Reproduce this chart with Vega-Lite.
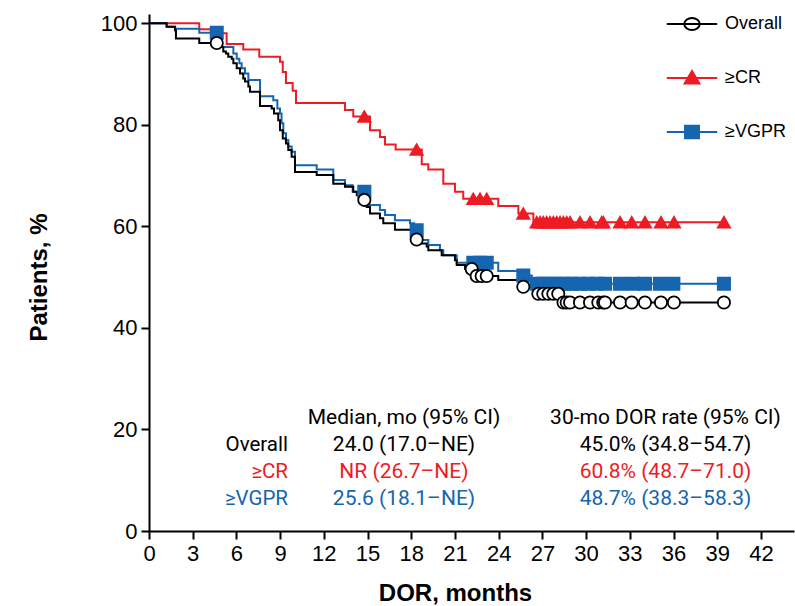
{
  "$schema": "https://vega.github.io/schema/vega-lite/v6.json",
  "width": 645,
  "height": 517,
  "autosize": {"type": "none"},
  "padding": {"left": 149, "top": 14, "right": 1, "bottom": 75},
  "background": "white",
  "config": {
    "view": {"stroke": null},
    "axis": {
      "domainColor": "black", "domainWidth": 2, "tickColor": "black", "tickWidth": 2, "tickSize": 8,
      "labelFont": "Liberation Sans Narrow, Liberation Sans", "labelFontSize": 22, "labelColor": "black", "labelPadding": 4,
      "titleFont": "Liberation Sans", "titleFontSize": 24, "titleFontWeight": "bold", "titleColor": "black", "grid": false
    }
  },
  "datasets": {
    "km": [
      {"g": "≥CR", "t": 0, "s": 100, "c": 0},
      {"g": "≥CR", "t": 3.45, "s": 98.8, "c": 0},
      {"g": "≥CR", "t": 4.5, "s": 98.0, "c": 0},
      {"g": "≥CR", "t": 5.33, "s": 95.9, "c": 0},
      {"g": "≥CR", "t": 6.47, "s": 94.8, "c": 0},
      {"g": "≥CR", "t": 7.57, "s": 93.4, "c": 0},
      {"g": "≥CR", "t": 8.99, "s": 92.4, "c": 0},
      {"g": "≥CR", "t": 9.18, "s": 90.4, "c": 0},
      {"g": "≥CR", "t": 9.40, "s": 88.2, "c": 0},
      {"g": "≥CR", "t": 9.86, "s": 86.7, "c": 0},
      {"g": "≥CR", "t": 10.09, "s": 84.3, "c": 0},
      {"g": "≥CR", "t": 13.45, "s": 82.9, "c": 0},
      {"g": "≥CR", "t": 14.02, "s": 81.6, "c": 0},
      {"g": "≥CR", "t": 14.78, "s": 81.6, "c": 1},
      {"g": "≥CR", "t": 15.17, "s": 78.9, "c": 0},
      {"g": "≥CR", "t": 15.85, "s": 77.6, "c": 0},
      {"g": "≥CR", "t": 16.20, "s": 76.1, "c": 0},
      {"g": "≥CR", "t": 16.93, "s": 75.1, "c": 0},
      {"g": "≥CR", "t": 18.37, "s": 75.1, "c": 1},
      {"g": "≥CR", "t": 18.72, "s": 72.2, "c": 0},
      {"g": "≥CR", "t": 19.17, "s": 71.2, "c": 0},
      {"g": "≥CR", "t": 20.20, "s": 68.4, "c": 0},
      {"g": "≥CR", "t": 21.00, "s": 66.8, "c": 0},
      {"g": "≥CR", "t": 21.57, "s": 65.4, "c": 0},
      {"g": "≥CR", "t": 22.26, "s": 65.4, "c": 1},
      {"g": "≥CR", "t": 22.72, "s": 65.4, "c": 1},
      {"g": "≥CR", "t": 23.18, "s": 65.4, "c": 1},
      {"g": "≥CR", "t": 23.97, "s": 64.0, "c": 0},
      {"g": "≥CR", "t": 25.35, "s": 62.5, "c": 0},
      {"g": "≥CR", "t": 25.69, "s": 62.5, "c": 1},
      {"g": "≥CR", "t": 26.38, "s": 60.8, "c": 0},
      {"g": "≥CR", "t": 26.61, "s": 60.8, "c": 1},
      {"g": "≥CR", "t": 26.84, "s": 60.8, "c": 1},
      {"g": "≥CR", "t": 27.06, "s": 60.8, "c": 1},
      {"g": "≥CR", "t": 27.29, "s": 60.8, "c": 1},
      {"g": "≥CR", "t": 27.52, "s": 60.8, "c": 1},
      {"g": "≥CR", "t": 27.75, "s": 60.8, "c": 1},
      {"g": "≥CR", "t": 27.98, "s": 60.8, "c": 1},
      {"g": "≥CR", "t": 28.21, "s": 60.8, "c": 1},
      {"g": "≥CR", "t": 28.44, "s": 60.8, "c": 1},
      {"g": "≥CR", "t": 28.67, "s": 60.8, "c": 1},
      {"g": "≥CR", "t": 28.90, "s": 60.8, "c": 1},
      {"g": "≥CR", "t": 29.58, "s": 60.8, "c": 1},
      {"g": "≥CR", "t": 30.27, "s": 60.8, "c": 1},
      {"g": "≥CR", "t": 31.07, "s": 60.8, "c": 1},
      {"g": "≥CR", "t": 31.18, "s": 60.8, "c": 1},
      {"g": "≥CR", "t": 32.33, "s": 60.8, "c": 1},
      {"g": "≥CR", "t": 33.13, "s": 60.8, "c": 1},
      {"g": "≥CR", "t": 34.04, "s": 60.8, "c": 1},
      {"g": "≥CR", "t": 35.14, "s": 60.8, "c": 1},
      {"g": "≥CR", "t": 36.03, "s": 60.8, "c": 1},
      {"g": "≥CR", "t": 39.46, "s": 60.8, "c": 1},

      {"g": "≥VGPR", "t": 0, "s": 100, "c": 0},
      {"g": "≥VGPR", "t": 1.21, "s": 99.3, "c": 0},
      {"g": "≥VGPR", "t": 1.8, "s": 98.9, "c": 0},
      {"g": "≥VGPR", "t": 3.45, "s": 98.1, "c": 0},
      {"g": "≥VGPR", "t": 4.65, "s": 98.1, "c": 1},
      {"g": "≥VGPR", "t": 4.92, "s": 95.3, "c": 0},
      {"g": "≥VGPR", "t": 5.79, "s": 94.0, "c": 0},
      {"g": "≥VGPR", "t": 6.02, "s": 93.0, "c": 0},
      {"g": "≥VGPR", "t": 6.20, "s": 92.1, "c": 0},
      {"g": "≥VGPR", "t": 6.36, "s": 91.1, "c": 0},
      {"g": "≥VGPR", "t": 6.59, "s": 90.1, "c": 0},
      {"g": "≥VGPR", "t": 6.82, "s": 88.8, "c": 0},
      {"g": "≥VGPR", "t": 7.62, "s": 85.6, "c": 0},
      {"g": "≥VGPR", "t": 8.53, "s": 84.8, "c": 0},
      {"g": "≥VGPR", "t": 8.81, "s": 83.2, "c": 0},
      {"g": "≥VGPR", "t": 8.99, "s": 82.2, "c": 0},
      {"g": "≥VGPR", "t": 9.10, "s": 80.3, "c": 0},
      {"g": "≥VGPR", "t": 9.22, "s": 78.3, "c": 0},
      {"g": "≥VGPR", "t": 9.40, "s": 77.0, "c": 0},
      {"g": "≥VGPR", "t": 9.56, "s": 75.7, "c": 0},
      {"g": "≥VGPR", "t": 9.79, "s": 74.7, "c": 0},
      {"g": "≥VGPR", "t": 10.02, "s": 72.0, "c": 0},
      {"g": "≥VGPR", "t": 11.51, "s": 71.2, "c": 0},
      {"g": "≥VGPR", "t": 12.65, "s": 69.1, "c": 0},
      {"g": "≥VGPR", "t": 13.45, "s": 68.1, "c": 0},
      {"g": "≥VGPR", "t": 13.98, "s": 66.8, "c": 0},
      {"g": "≥VGPR", "t": 14.78, "s": 66.8, "c": 1},
      {"g": "≥VGPR", "t": 15.05, "s": 64.2, "c": 0},
      {"g": "≥VGPR", "t": 15.85, "s": 63.2, "c": 0},
      {"g": "≥VGPR", "t": 16.20, "s": 62.2, "c": 0},
      {"g": "≥VGPR", "t": 16.88, "s": 61.2, "c": 0},
      {"g": "≥VGPR", "t": 17.91, "s": 60.6, "c": 0},
      {"g": "≥VGPR", "t": 18.2, "s": 59.2, "c": 0},
      {"g": "≥VGPR", "t": 18.37, "s": 59.2, "c": 1},
      {"g": "≥VGPR", "t": 18.72, "s": 57.3, "c": 0},
      {"g": "≥VGPR", "t": 19.17, "s": 56.3, "c": 0},
      {"g": "≥VGPR", "t": 19.97, "s": 55.3, "c": 0},
      {"g": "≥VGPR", "t": 20.20, "s": 54.3, "c": 0},
      {"g": "≥VGPR", "t": 21.12, "s": 52.8, "c": 0},
      {"g": "≥VGPR", "t": 22.26, "s": 52.8, "c": 1},
      {"g": "≥VGPR", "t": 22.72, "s": 52.8, "c": 1},
      {"g": "≥VGPR", "t": 23.18, "s": 52.8, "c": 1},
      {"g": "≥VGPR", "t": 23.97, "s": 51.2, "c": 0},
      {"g": "≥VGPR", "t": 25.35, "s": 50.3, "c": 0},
      {"g": "≥VGPR", "t": 25.69, "s": 50.3, "c": 1},
      {"g": "≥VGPR", "t": 26.27, "s": 48.7, "c": 0},
      {"g": "≥VGPR", "t": 26.61, "s": 48.7, "c": 1},
      {"g": "≥VGPR", "t": 27.06, "s": 48.7, "c": 1},
      {"g": "≥VGPR", "t": 27.52, "s": 48.7, "c": 1},
      {"g": "≥VGPR", "t": 27.98, "s": 48.7, "c": 1},
      {"g": "≥VGPR", "t": 28.55, "s": 48.7, "c": 1},
      {"g": "≥VGPR", "t": 29.01, "s": 48.7, "c": 1},
      {"g": "≥VGPR", "t": 29.58, "s": 48.7, "c": 1},
      {"g": "≥VGPR", "t": 30.15, "s": 48.7, "c": 1},
      {"g": "≥VGPR", "t": 30.73, "s": 48.7, "c": 1},
      {"g": "≥VGPR", "t": 31.30, "s": 48.7, "c": 1},
      {"g": "≥VGPR", "t": 32.33, "s": 48.7, "c": 1},
      {"g": "≥VGPR", "t": 33.24, "s": 48.7, "c": 1},
      {"g": "≥VGPR", "t": 34.04, "s": 48.7, "c": 1},
      {"g": "≥VGPR", "t": 35.07, "s": 48.7, "c": 1},
      {"g": "≥VGPR", "t": 35.99, "s": 48.7, "c": 1},
      {"g": "≥VGPR", "t": 39.46, "s": 48.7, "c": 1},

      {"g": "Overall", "t": 0, "s": 100, "c": 0},
      {"g": "Overall", "t": 1.21, "s": 99.3, "c": 0},
      {"g": "Overall", "t": 1.78, "s": 98.6, "c": 0},
      {"g": "Overall", "t": 1.85, "s": 97.0, "c": 0},
      {"g": "Overall", "t": 3.45, "s": 96.1, "c": 0},
      {"g": "Overall", "t": 4.65, "s": 96.1, "c": 1},
      {"g": "Overall", "t": 4.99, "s": 95.3, "c": 0},
      {"g": "Overall", "t": 5.10, "s": 94.4, "c": 0},
      {"g": "Overall", "t": 5.28, "s": 94.0, "c": 0},
      {"g": "Overall", "t": 5.44, "s": 93.4, "c": 0},
      {"g": "Overall", "t": 5.68, "s": 93.0, "c": 0},
      {"g": "Overall", "t": 5.79, "s": 92.1, "c": 0},
      {"g": "Overall", "t": 6.02, "s": 91.1, "c": 0},
      {"g": "Overall", "t": 6.25, "s": 90.1, "c": 0},
      {"g": "Overall", "t": 6.47, "s": 89.1, "c": 0},
      {"g": "Overall", "t": 6.59, "s": 88.5, "c": 0},
      {"g": "Overall", "t": 6.82, "s": 87.5, "c": 0},
      {"g": "Overall", "t": 6.93, "s": 86.5, "c": 0},
      {"g": "Overall", "t": 7.62, "s": 83.7, "c": 0},
      {"g": "Overall", "t": 8.42, "s": 83.2, "c": 0},
      {"g": "Overall", "t": 8.58, "s": 82.2, "c": 0},
      {"g": "Overall", "t": 8.87, "s": 80.9, "c": 0},
      {"g": "Overall", "t": 8.99, "s": 78.9, "c": 0},
      {"g": "Overall", "t": 9.18, "s": 77.3, "c": 0},
      {"g": "Overall", "t": 9.40, "s": 76.3, "c": 0},
      {"g": "Overall", "t": 9.56, "s": 75.0, "c": 0},
      {"g": "Overall", "t": 9.79, "s": 73.7, "c": 0},
      {"g": "Overall", "t": 10.02, "s": 70.7, "c": 0},
      {"g": "Overall", "t": 11.51, "s": 70.1, "c": 0},
      {"g": "Overall", "t": 12.65, "s": 68.4, "c": 0},
      {"g": "Overall", "t": 13.45, "s": 67.8, "c": 0},
      {"g": "Overall", "t": 14.02, "s": 66.8, "c": 0},
      {"g": "Overall", "t": 14.26, "s": 66.1, "c": 0},
      {"g": "Overall", "t": 14.5, "s": 65.2, "c": 0},
      {"g": "Overall", "t": 14.78, "s": 65.2, "c": 1},
      {"g": "Overall", "t": 14.94, "s": 63.8, "c": 0},
      {"g": "Overall", "t": 15.17, "s": 62.5, "c": 0},
      {"g": "Overall", "t": 15.85, "s": 61.6, "c": 0},
      {"g": "Overall", "t": 16.08, "s": 60.6, "c": 0},
      {"g": "Overall", "t": 16.88, "s": 59.3, "c": 0},
      {"g": "Overall", "t": 18.03, "s": 58.9, "c": 0},
      {"g": "Overall", "t": 18.2, "s": 57.4, "c": 0},
      {"g": "Overall", "t": 18.37, "s": 57.4, "c": 1},
      {"g": "Overall", "t": 18.60, "s": 56.6, "c": 0},
      {"g": "Overall", "t": 19.06, "s": 56.0, "c": 0},
      {"g": "Overall", "t": 19.17, "s": 55.3, "c": 0},
      {"g": "Overall", "t": 20.09, "s": 54.3, "c": 0},
      {"g": "Overall", "t": 21.00, "s": 53.3, "c": 0},
      {"g": "Overall", "t": 21.12, "s": 52.4, "c": 0},
      {"g": "Overall", "t": 21.69, "s": 51.6, "c": 0},
      {"g": "Overall", "t": 22.15, "s": 51.6, "c": 1},
      {"g": "Overall", "t": 22.3, "s": 50.2, "c": 0},
      {"g": "Overall", "t": 22.49, "s": 50.2, "c": 1},
      {"g": "Overall", "t": 22.83, "s": 50.2, "c": 1},
      {"g": "Overall", "t": 23.18, "s": 50.2, "c": 1},
      {"g": "Overall", "t": 23.97, "s": 49.4, "c": 0},
      {"g": "Overall", "t": 25.5, "s": 48.1, "c": 0},
      {"g": "Overall", "t": 25.69, "s": 48.1, "c": 1},
      {"g": "Overall", "t": 26.38, "s": 46.7, "c": 0},
      {"g": "Overall", "t": 26.72, "s": 46.7, "c": 1},
      {"g": "Overall", "t": 27.06, "s": 46.7, "c": 1},
      {"g": "Overall", "t": 27.41, "s": 46.7, "c": 1},
      {"g": "Overall", "t": 27.75, "s": 46.7, "c": 1},
      {"g": "Overall", "t": 28.09, "s": 46.7, "c": 1},
      {"g": "Overall", "t": 28.33, "s": 45.0, "c": 0},
      {"g": "Overall", "t": 28.45, "s": 45.0, "c": 1},
      {"g": "Overall", "t": 28.67, "s": 45.0, "c": 1},
      {"g": "Overall", "t": 28.90, "s": 45.0, "c": 1},
      {"g": "Overall", "t": 29.58, "s": 45.0, "c": 1},
      {"g": "Overall", "t": 30.27, "s": 45.0, "c": 1},
      {"g": "Overall", "t": 30.84, "s": 45.0, "c": 1},
      {"g": "Overall", "t": 31.18, "s": 45.0, "c": 1},
      {"g": "Overall", "t": 31.30, "s": 45.0, "c": 1},
      {"g": "Overall", "t": 32.33, "s": 45.0, "c": 1},
      {"g": "Overall", "t": 33.13, "s": 45.0, "c": 1},
      {"g": "Overall", "t": 34.04, "s": 45.0, "c": 1},
      {"g": "Overall", "t": 35.14, "s": 45.0, "c": 1},
      {"g": "Overall", "t": 36.03, "s": 45.0, "c": 1},
      {"g": "Overall", "t": 39.46, "s": 45.0, "c": 1}
    ],
    "rowlabels": [
      {"t": 9.54, "s": 16.9, "txt": "Overall", "tone": "Overall"},
      {"t": 9.54, "s": 11.6, "txt": "≥CR", "tone": "≥CR"},
      {"t": 9.54, "s": 6.3, "txt": "≥VGPR", "tone": "≥VGPR"}
    ],
    "cells": [
      {"t": 17.5, "s": 22.2, "txt": "Median, mo (95% CI)", "tone": "header"},
      {"t": 17.5, "s": 16.9, "txt": "24.0 (17.0–NE)", "tone": "Overall"},
      {"t": 17.5, "s": 11.6, "txt": "NR (26.7–NE)", "tone": "≥CR"},
      {"t": 17.5, "s": 6.3, "txt": "25.6 (18.1–NE)", "tone": "≥VGPR"},
      {"t": 35.45, "s": 22.2, "txt": "30-mo DOR rate (95% CI)", "tone": "header"},
      {"t": 35.45, "s": 16.9, "txt": "45.0% (34.8–54.7)", "tone": "Overall"},
      {"t": 35.45, "s": 11.6, "txt": "60.8% (48.7–71.0)", "tone": "≥CR"},
      {"t": 35.45, "s": 6.3, "txt": "48.7% (38.3–58.3)", "tone": "≥VGPR"}
    ]
  },
  "encoding": {
    "x": {
      "field": "t", "type": "quantitative",
      "scale": {"domain": [0, 44.27], "nice": false, "zero": true},
      "axis": {
        "values": [0, 3, 6, 9, 12, 15, 18, 21, 24, 27, 30, 33, 36, 39, 42],
        "title": "DOR, months", "labelFlush": false,
        "titleX": 306, "titleY": 62, "titleBaseline": "middle", "titleAlign": "center", "titleAnchor": null
      }
    },
    "y": {
      "field": "s", "type": "quantitative",
      "scale": {"domain": [0, 101.8], "nice": false},
      "axis": {
        "values": [0, 20, 40, 60, 80, 100],
        "title": "Patients, %",
        "titleX": -110, "titleY": 263, "titleBaseline": "middle", "titleAlign": "center", "titleAngle": 270, "titleAnchor": null
      }
    }
  },
  "resolve": {"scale": {"color": "independent"}},
  "layer": [
    {
      "data": {"name": "km"},
      "mark": {"type": "line", "interpolate": "step-after", "strokeWidth": 2},
      "encoding": {
        "color": {
          "field": "g", "type": "nominal",
          "scale": {"domain": ["Overall", "≥CR", "≥VGPR"], "range": ["#000000", "#ED1C24", "#1565B0"]},
          "legend": {
            "title": null, "orient": "none", "legendX": 534, "legendY": 1,
            "symbolSize": 196, "symbolStrokeWidth": 2,
            "labelFont": "Liberation Sans Narrow, Liberation Sans", "labelFontSize": 18, "labelColor": "black",
            "labelOffset": 24, "rowPadding": 33, "labelLimit": 200,
            "encode": {
              "symbols": {
                "update": {
                  "shape": {"signal": "datum.value === 'Overall' ? 'M-3.6,0H3.6M1.1,0A1.1,0.85 0 1 1 -1.1,0A1.1,0.85 0 1 1 1.1,0Z' : datum.value === '≥CR' ? 'M-3.6,0H3.6M0,-1L1.05,0.8H-1.05Z' : 'M-3.6,0H3.6M-1,-0.9H1V0.9H-1Z'"},
                  "fill": {"signal": "datum.value === 'Overall' ? '#ffffff' : datum.value === '≥CR' ? '#ED1C24' : '#1565B0'"},
                  "stroke": {"signal": "datum.value === 'Overall' ? '#000000' : datum.value === '≥CR' ? '#ED1C24' : '#1565B0'"},
                  "strokeWidth": {"value": 2},
                  "opacity": {"value": 1}
                }
              }
            }
          }
        }
      }
    },
    {
      "data": {"name": "km"},
      "transform": [{"filter": "datum.c == 1"}],
      "mark": {"type": "point", "opacity": 1, "strokeWidth": 1.8, "size": 150},
      "encoding": {
        "shape": {"field": "g", "type": "nominal", "scale": {"domain": ["Overall", "≥CR", "≥VGPR"], "range": ["circle", "triangle-up", "square"]}, "legend": null},
        "fill": {"field": "g", "type": "nominal", "scale": {"domain": ["Overall", "≥CR", "≥VGPR"], "range": ["#ffffff", "#ED1C24", "#1565B0"]}, "legend": null},
        "stroke": {"field": "g", "type": "nominal", "scale": {"domain": ["Overall", "≥CR", "≥VGPR"], "range": ["#000000", "#ED1C24", "#1565B0"]}, "legend": null}
      }
    },
    {
      "data": {"name": "rowlabels"},
      "mark": {"type": "text", "align": "right", "baseline": "middle", "font": "Roboto", "fontSize": 20.5},
      "encoding": {
        "text": {"field": "txt"},
        "color": {"field": "tone", "type": "nominal", "scale": {"domain": ["header", "Overall", "≥CR", "≥VGPR"], "range": ["#000000", "#000000", "#ED1C24", "#1565B0"]}, "legend": null}
      }
    },
    {
      "data": {"name": "cells"},
      "mark": {"type": "text", "align": "center", "baseline": "middle", "font": "Roboto", "fontSize": 21},
      "encoding": {
        "text": {"field": "txt"},
        "color": {"field": "tone", "type": "nominal", "scale": {"domain": ["header", "Overall", "≥CR", "≥VGPR"], "range": ["#000000", "#000000", "#ED1C24", "#1565B0"]}, "legend": null}
      }
    }
  ]
}
